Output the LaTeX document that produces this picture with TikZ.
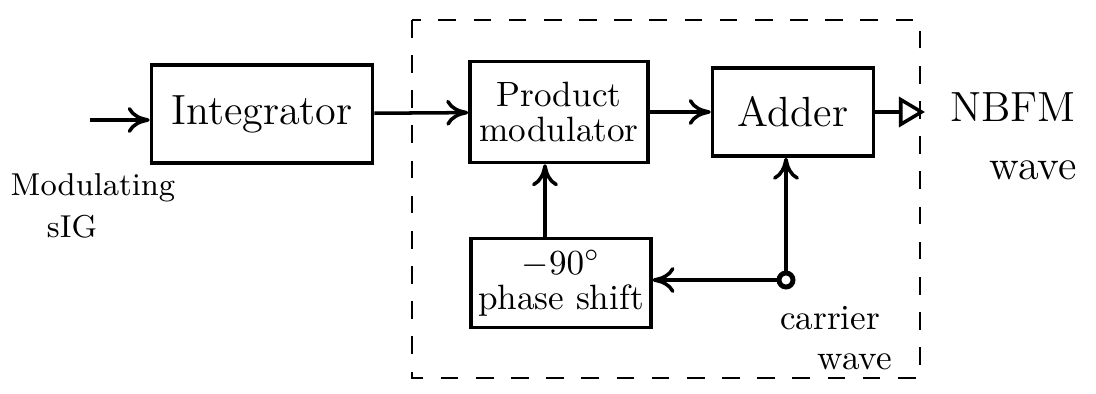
\documentclass[tikz,border=0pt]{standalone}
\usepackage{tikz}
\usetikzlibrary{arrows.meta,positioning,calc}
\tikzset{
  block/.style={
    rectangle, draw=black, line width=1pt,
    align=center, inner sep=2pt
  },
  flow/.style={-{To[length=2.2mm,width=2.6mm]}, line width=1pt},
  outflow/.style={-{Triangle[open,length=2.6mm,width=3mm]}, line width=1pt},
  lbl/.style={font=\normalsize, align=center}
}

\begin{document}
\begin{tikzpicture}[x=0.01cm,y=-0.01cm]
  \useasboundingbox (0,0) rectangle (1096,394);
  % transmitter boundary
  \draw[line width=0.7pt, dash pattern=on 5pt off 5pt] (412,20) rectangle (920,378);

  % blocks
  \node[block, minimum width=2.21cm, minimum height=0.98cm, font=\large] (integ) at (262,114) {Integrator};
  \node[block, minimum width=1.78cm, minimum height=1.01cm, font=\normalsize] (prod) at (559,112) {Product\\[-2pt]modulator};
  \node[block, minimum width=1.61cm, minimum height=0.88cm, font=\large] (adder) at (793,112) {Adder};
  \node[block, minimum width=1.78cm, minimum height=0.89cm, font=\normalsize] (phase) at (561,283) {$-90^{\circ}$\\[-2pt]phase shift};
  \node[circle, draw, line width=1.4pt, minimum size=0.14cm, inner sep=0pt] (car) at (786,280) {};

  % free ends
  \coordinate (in) at (90,120);
  \coordinate (out) at (925,112);

  % connectors
  \draw[flow] (in) -- (in -| integ.west);
  \draw[flow] (integ) -- (prod);
  \draw[flow] (prod) -- (adder);
  \draw[outflow] (adder.east) -- (out);
  \draw[flow] ([xshift=-0.16cm]phase.north) -- ([xshift=-0.16cm]phase.north |- prod.south);
  \draw[flow] (car) -- (car |- adder.south);
  \draw[flow] (car) -- (car -| phase.east);

  % labels
  \node[lbl, font=\small] (msig) at (93,188) {Modulating};
  \node[lbl, font=\small] (msig2) at (72,227) {sIG};
  \node[lbl, font=\large] (nbfm) at (1013,107) {NBFM};
  \node[lbl, font=\large] (nbfm2) at (1033,170) {wave};
  \node[lbl, font=\normalsize] (carl) at (830,318) {carrier};
  \node[lbl, font=\normalsize] (carl2) at (855,362) {wave};
\end{tikzpicture}
\end{document}
